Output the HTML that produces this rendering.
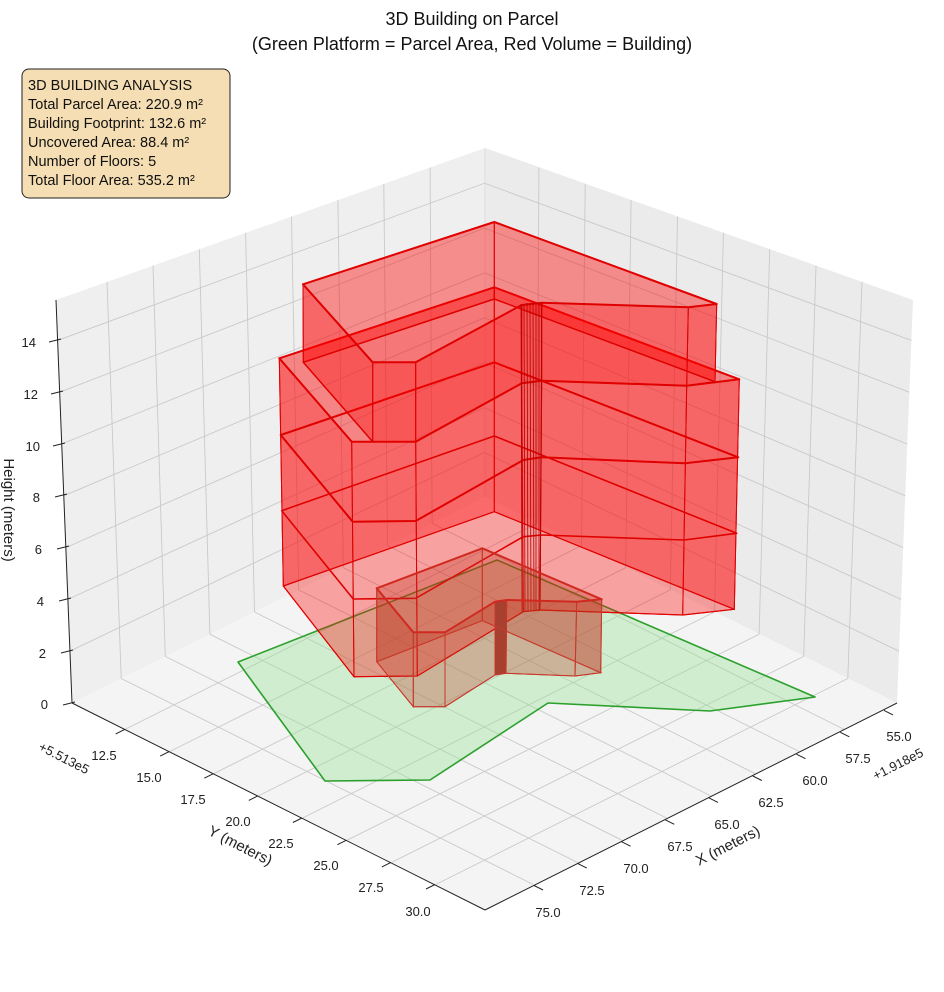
<!DOCTYPE html>
<html><head><meta charset="utf-8">
<style>
html,body{margin:0;padding:0;background:#fff;}
svg{display:block;font-family:"Liberation Sans","DejaVu Sans",sans-serif;}
.g{stroke:#c9c9c9;stroke-width:0.9;fill:none}
.f{fill:rgba(255,0,0,0.34);stroke:#dd0000;stroke-width:1}
.f1{fill:rgba(190,55,35,0.32);stroke:#c8382a;stroke-width:1}
.lv{fill:none;stroke:#e00000;stroke-width:2;stroke-linejoin:round}
.lv1{fill:none;stroke:#d02a20;stroke-width:2;stroke-linejoin:round}
.t{font-size:13px;fill:#222}
</style></head><body>
<svg width="944" height="992" viewBox="0 0 944 992" xmlns="http://www.w3.org/2000/svg">
<rect width="944" height="992" fill="#fff"/>
<polygon points="72,703 56,300 485,148 485,497" fill="#efefef"/>
<polygon points="897,703 913,300 485,148 485,497" fill="#ebebeb"/>
<polygon points="72,703 485,497 897,703 485,910" fill="#f4f4f4"/>
<g id="gl">
<g class="g">
<line x1="432.1" y1="523.4" x2="430.1" y2="167.5"/>
<line x1="387.5" y1="545.6" x2="383.8" y2="183.9"/>
<line x1="343.3" y1="567.7" x2="337.9" y2="200.1"/>
<line x1="298.7" y1="589.9" x2="291.5" y2="216.6"/>
<line x1="254.5" y1="612.0" x2="245.6" y2="232.8"/>
<line x1="209.9" y1="634.2" x2="199.3" y2="249.2"/>
<line x1="165.3" y1="656.4" x2="153.0" y2="265.6"/>
<line x1="121.2" y1="678.5" x2="107.0" y2="281.9"/>
<line x1="69.9" y1="651.2" x2="485" y2="452.2"/>
<line x1="67.9" y1="599.4" x2="485" y2="407.3"/>
<line x1="65.8" y1="547.6" x2="485" y2="362.4"/>
<line x1="63.8" y1="495.8" x2="485" y2="317.6"/>
<line x1="61.7" y1="444.0" x2="485" y2="272.7"/>
<line x1="59.7" y1="392.2" x2="485" y2="227.9"/>
<line x1="57.6" y1="340.4" x2="485" y2="183.0"/>
<line x1="432.1" y1="523.4" x2="844.1" y2="729.4"/>
<line x1="387.5" y1="545.6" x2="799.5" y2="751.6"/>
<line x1="343.3" y1="567.7" x2="755.3" y2="773.7"/>
<line x1="298.7" y1="589.9" x2="710.7" y2="795.9"/>
<line x1="254.5" y1="612.0" x2="666.5" y2="818.0"/>
<line x1="209.9" y1="634.2" x2="621.9" y2="840.2"/>
<line x1="165.3" y1="656.4" x2="577.3" y2="862.4"/>
<line x1="121.2" y1="678.5" x2="533.2" y2="884.5"/>
</g>
</g>
<use href="#gl" transform="translate(969,0) scale(-1,1)"/>
<line x1="485" y1="148" x2="485" y2="497" stroke="#d8d8d8" stroke-width="0.8"/>
<g stroke="#222" stroke-width="1">
<line x1="56" y1="300" x2="72" y2="703"/>
<line x1="72" y1="703" x2="485" y2="910"/>
<line x1="485" y1="910" x2="897" y2="703"/>
</g>
<g stroke="#222" stroke-width="1">
<line x1="75" y1="702" x2="63" y2="705"/>
<line x1="73" y1="650" x2="61" y2="653"/>
<line x1="71" y1="598" x2="59" y2="601"/>
<line x1="69" y1="546" x2="57" y2="549"/>
<line x1="67" y1="494" x2="55" y2="497"/>
<line x1="65" y1="443" x2="53" y2="446"/>
<line x1="63" y1="391" x2="51" y2="394"/>
<line x1="61" y1="339" x2="49" y2="342"/>
</g>
<g class="t" text-anchor="end">
<text x="48" y="709">0</text><text x="46" y="658">2</text><text x="44" y="606">4</text><text x="42" y="554">6</text>
<text x="40" y="502">8</text><text x="40" y="451">10</text><text x="38" y="399">12</text><text x="36" y="347">14</text>
</g>
<text transform="translate(4,510) rotate(90)" text-anchor="middle" font-size="15" fill="#222">Height (meters)</text>
<g stroke="#222" stroke-width="1">
<line x1="124.7" y1="729.4" x2="115.7" y2="733.9"/>
<line x1="169.2" y1="751.6" x2="160.2" y2="756.1"/>
<line x1="213.3" y1="773.7" x2="204.3" y2="778.2"/>
<line x1="257.8" y1="795.9" x2="248.8" y2="800.4"/>
<line x1="301.9" y1="818.0" x2="292.9" y2="822.5"/>
<line x1="346.4" y1="840.2" x2="337.4" y2="844.7"/>
<line x1="390.9" y1="862.4" x2="381.9" y2="866.9"/>
<line x1="435" y1="884.5" x2="426" y2="889"/>
</g>
<g class="t" text-anchor="middle">
<text x="104" y="760">12.5</text><text x="149" y="782">15.0</text><text x="193" y="804">17.5</text><text x="238" y="826">20.0</text>
<text x="281" y="848">22.5</text><text x="326" y="870">25.0</text><text x="371" y="892">27.5</text><text x="418" y="916">30.0</text>
</g>
<text transform="translate(62,762) rotate(27)" text-anchor="middle" font-size="13" fill="#222">+5.513e5</text>
<text transform="translate(238,850) rotate(27)" text-anchor="middle" font-size="15" fill="#222">Y (meters)</text>
<g stroke="#222" stroke-width="1">
<line x1="534" y1="885.5" x2="543" y2="890"/>
<line x1="577.8" y1="863.6" x2="586.8" y2="868.1"/>
<line x1="621.5" y1="841.7" x2="630.5" y2="846.2"/>
<line x1="665.3" y1="819.8" x2="674.3" y2="824.3"/>
<line x1="709" y1="797.9" x2="718" y2="802.4"/>
<line x1="752.8" y1="776" x2="761.8" y2="780.5"/>
<line x1="796.5" y1="754.2" x2="805.5" y2="758.7"/>
<line x1="840.3" y1="732.3" x2="849.3" y2="736.8"/>
<line x1="884" y1="710.4" x2="893" y2="714.9"/>
</g>
<g class="t" text-anchor="middle">
<text x="548" y="917">75.0</text><text x="592" y="895">72.5</text><text x="636" y="873">70.0</text><text x="680" y="851">67.5</text>
<text x="727" y="829">65.0</text><text x="771" y="807">62.5</text><text x="815" y="785">60.0</text><text x="858" y="763">57.5</text><text x="899" y="741">55.0</text>
</g>
<text transform="translate(900,768) rotate(-27)" text-anchor="middle" font-size="13" fill="#222">+1.918e5</text>
<text transform="translate(730,850) rotate(-27)" text-anchor="middle" font-size="15" fill="#222">X (meters)</text>

<polygon points="238,662 497,560 815,697 710,711 548,703 430,780 325,781" fill="rgba(150,225,150,0.38)" stroke="#2ca02c" stroke-width="1.6" stroke-linejoin="round"/>

<g class="f">
<polygon points="279.3,358.3 494.3,287.3 494.3,511.7 283.3,586"/>
<polygon points="494.3,287.3 739.3,379.3 734.3,609.3 494.3,511.7"/>
<polygon points="739.3,379.3 686.7,385.7 682.7,615 734.3,609.3"/>
<polygon points="686.7,385.7 541.7,380.7 540,610 682.7,615"/>
<polygon points="541.7,380.7 521.7,383.3 523.3,611.7 540,610"/>
<polygon points="521.7,383.3 415.7,441.7 417.3,676 523.3,611.7"/>
<polygon points="415.7,441.7 351.7,441.7 354,676.7 417.3,676"/>
<polygon points="351.7,441.7 279.3,358.3 283.3,586 354,676.7"/>
</g>
<polygon points="279.3,358.3 494.3,287.3 739.3,379.3 686.7,385.7 541.7,380.7 521.7,383.3 415.7,441.7 351.7,441.7" fill="rgba(255,0,0,0.15)"/>
<g class="lv">
<polygon points="279.3,358.3 494.3,287.3 739.3,379.3 686.7,385.7 541.7,380.7 521.7,383.3 415.7,441.7 351.7,441.7"/>
<polygon points="280.7,435 494.3,362.3 738.3,457.3 685,463.3 541.7,457.3 523.3,460 415.7,521 352.7,521.7"/>
<polygon points="281.7,510.7 494.3,436 736.7,533.3 684,540 541.7,535 523.3,536.7 415.7,598.3 353.3,599" stroke-width="1.6"/>
<polygon points="283.3,586 494.3,511.7 734.3,609.3 682.7,615 540,610 523.3,611.7 417.3,676 354,676.7" stroke-width="1.2"/>
</g>
<g class="f">
<polygon points="303,284.3 494.3,222 494.3,299 303.3,362.3"/>
<polygon points="494.3,222 716.7,304 715,381.7 494.3,299"/>
<polygon points="716.7,304 688.3,307.3 686.7,385.7 715,381.7"/>
<polygon points="688.3,307.3 541.7,302.7 541.7,380.7 686.7,385.7"/>
<polygon points="541.7,302.7 521.7,305 521.7,383.3 541.7,380.7"/>
<polygon points="521.7,305 415.7,362.3 415.7,441.7 521.7,383.3"/>
<polygon points="415.7,362.3 372.7,362.3 372.7,441.7 415.7,441.7"/>
<polygon points="372.7,362.3 303,284.3 303.3,362.3 372.7,441.7"/>
</g>
<polygon points="303,284.3 494.3,222 716.7,304 688.3,307.3 541.7,302.7 521.7,305 415.7,362.3 372.7,362.3" fill="rgba(255,0,0,0.1)"/>
<g class="lv">
<polygon points="303,284.3 494.3,222 716.7,304 688.3,307.3 541.7,302.7 521.7,305 415.7,362.3 372.7,362.3"/>
<polygon points="303.3,362.3 494.3,299 715,381.7 686.7,385.7 541.7,380.7 521.7,383.3 415.7,441.7 372.7,441.7" stroke-width="1.5"/>
</g>
<g stroke="#b00000" stroke-width="0.8">
<line x1="521" y1="304" x2="522" y2="612"/><line x1="524" y1="304" x2="525" y2="612"/><line x1="527" y1="303" x2="528" y2="612"/>
<line x1="530" y1="303" x2="531" y2="611"/><line x1="533" y1="303" x2="534" y2="611"/><line x1="536" y1="303" x2="536" y2="611"/>
<line x1="539" y1="303" x2="539" y2="611"/><line x1="541.7" y1="303" x2="540" y2="610"/>
</g>
<g class="f1">
<polygon points="376.7,588.3 482.3,548.3 482.3,620.7 376.7,661.7"/>
<polygon points="482.3,548.3 601.7,599.3 600.7,672.7 482.3,620.7"/>
<polygon points="601.7,599.3 576.7,601.7 575,676 600.7,672.7"/>
<polygon points="576.7,601.7 506.7,600 506,673.3 575,676"/>
<polygon points="506.7,600 495,601.7 495,675 506,673.3" fill="#a84030"/>
<polygon points="495,601.7 445,632.3 445,706.7 495,675"/>
<polygon points="445,632.3 413.3,632.3 413.3,706.7 445,706.7"/>
<polygon points="413.3,632.3 376.7,588.3 376.7,661.7 413.3,706.7"/>
</g>
<polygon class="lv1" points="376.7,588.3 482.3,548.3 601.7,599.3 576.7,601.7 506.7,600 495,601.7 445,632.3 413.3,632.3"/>
<polygon points="376.7,661.7 482.3,620.7 600.7,672.7 575,676 506,673.3 495,675 445,706.7 413.3,706.7" fill="none" stroke="#c8382a" stroke-width="1"/>

<text x="472" y="25" text-anchor="middle" font-size="18" fill="#111">3D Building on Parcel</text>
<text x="472" y="50" text-anchor="middle" font-size="18" fill="#111">(Green Platform = Parcel Area, Red Volume = Building)</text>
<rect x="22" y="69" width="208" height="129" rx="7" fill="#f5deb3" stroke="#222" stroke-width="1"/>
<g font-size="14.5" fill="#111">
<text x="28" y="90">3D BUILDING ANALYSIS</text>
<text x="28" y="109">Total Parcel Area: 220.9 m²</text>
<text x="28" y="128">Building Footprint: 132.6 m²</text>
<text x="28" y="147">Uncovered Area: 88.4 m²</text>
<text x="28" y="166">Number of Floors: 5</text>
<text x="28" y="185">Total Floor Area: 535.2 m²</text>
</g>
</svg>
</body></html>
